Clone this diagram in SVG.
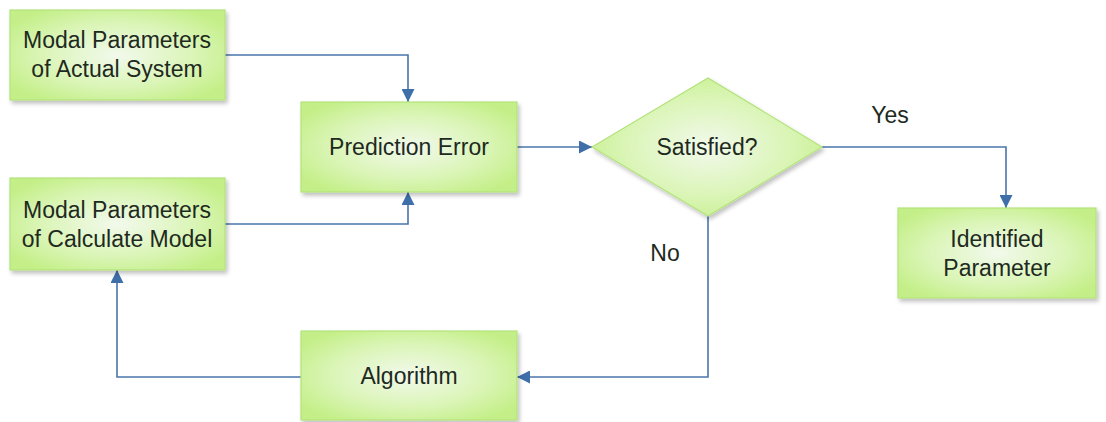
<svg xmlns="http://www.w3.org/2000/svg" width="1106" height="422" viewBox="0 0 1106 422">
<defs>
<radialGradient id="g" cx="0.5" cy="0.5" r="0.6">
<stop offset="0" stop-color="#f2f9ec"/>
<stop offset="0.6" stop-color="#daf5b6"/>
<stop offset="1" stop-color="#c4ef88"/>
</radialGradient>
<filter id="sh" x="-10%" y="-10%" width="125%" height="130%">
<feGaussianBlur in="SourceAlpha" stdDeviation="2"/>
<feOffset dx="2" dy="3"/>
<feComponentTransfer><feFuncA type="linear" slope="0.25"/></feComponentTransfer>
<feMerge><feMergeNode/><feMergeNode in="SourceGraphic"/></feMerge>
</filter>
<marker id="arr" viewBox="0 0 12 12" refX="12" refY="6" markerWidth="13" markerHeight="13" markerUnits="userSpaceOnUse" orient="auto">
<path d="M0,0 L12,6 L0,12 Z" fill="#3f6fa8"/>
</marker>
</defs>
<style>
.n{fill:url(#g);stroke:#b4e37c;stroke-width:1.2;filter:url(#sh)}
.t{font-family:"Liberation Sans",Arial,sans-serif;font-size:23px;fill:#1e2a1e;text-anchor:middle}
.c{fill:none;stroke:#4a76aa;stroke-width:1.6;marker-end:url(#arr)}
</style>
<rect width="1106" height="422" fill="#ffffff"/>
<g id="connectors">
<path class="c" d="M225,55 H408 V102"/>
<path class="c" d="M225,224 H408 V192"/>
<path class="c" d="M517,147 H592"/>
<path class="c" d="M822,147 H1006 V208"/>
<path class="c" d="M708,216 V377 H517"/>
<path class="c" d="M301,377 H117 V270"/>
</g>
<g id="actual">
<rect class="n" x="10" y="10" width="215" height="90"/>
<text class="t" x="117" y="48">Modal Parameters</text>
<text class="t" x="117" y="77">of Actual System</text>
</g>
<g id="prediction">
<rect class="n" x="301" y="102" width="216" height="90"/>
<text class="t" x="409" y="155">Prediction Error</text>
</g>
<g id="satisfied">
<polygon class="n" points="592,147 708,78 822,147 708,216"/>
<text class="t" x="707" y="155">Satisfied?</text>
</g>
<g id="identified">
<rect class="n" x="898" y="208" width="198" height="90"/>
<text class="t" x="997" y="247">Identified</text>
<text class="t" x="997" y="276">Parameter</text>
</g>
<g id="calculate">
<rect class="n" x="10" y="178" width="215" height="92"/>
<text class="t" x="117" y="218">Modal Parameters</text>
<text class="t" x="117" y="247">of Calculate Model</text>
</g>
<g id="algorithm">
<rect class="n" x="301" y="331" width="216" height="89"/>
<text class="t" x="409" y="384">Algorithm</text>
</g>
<g id="labels">
<text class="t" x="890" y="123">Yes</text>
<text class="t" x="665" y="261">No</text>
</g>
</svg>
